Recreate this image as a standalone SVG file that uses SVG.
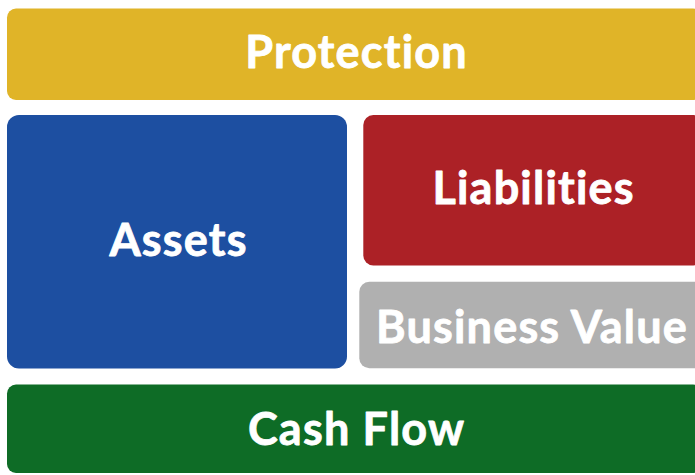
<svg xmlns="http://www.w3.org/2000/svg" width="695" height="475" viewBox="0 0 695 475">
  <style>
    .block { stroke: none; }
    .label { font-family: Lato, "Open Sans", "Liberation Sans", sans-serif; font-weight: 700; font-size: 45px; letter-spacing: 1.2px; fill: #ffffff; stroke: #ffffff; stroke-width: 0.8px; stroke-linejoin: round; text-anchor: middle; font-variant-ligatures: none; font-feature-settings: "liga" 0; }
  </style>
  <rect width="695" height="475" fill="#ffffff"/>
  <g id="protection">
    <rect class="block" x="7" y="8.5" width="695" height="91.5" rx="9" fill="#E0B428"/>
    <text class="label" x="356.6" y="68.3">Protection</text>
  </g>
  <g id="assets">
    <rect class="block" x="7" y="115" width="340" height="253.5" rx="12" fill="#1D4FA1"/>
    <text class="label" x="178.6" y="256">Assets</text>
  </g>
  <g id="liabilities">
    <rect class="block" x="363.3" y="115" width="340" height="150.5" rx="10" fill="#AC2126"/>
    <text class="label" x="533.6" y="204.3">Liabilities</text>
  </g>
  <g id="business-value">
    <rect class="block" x="359.3" y="281.7" width="345" height="86.5" rx="10" fill="#B0B0B0"/>
    <text class="label" x="532" y="342.7">Business Value</text>
  </g>
  <g id="cash-flow">
    <rect class="block" x="7" y="384.5" width="695" height="88.5" rx="9" fill="#0E6C26"/>
    <text class="label" x="356.6" y="445">Cash Flow</text>
  </g>
  <g id="connectors"/>
</svg>
